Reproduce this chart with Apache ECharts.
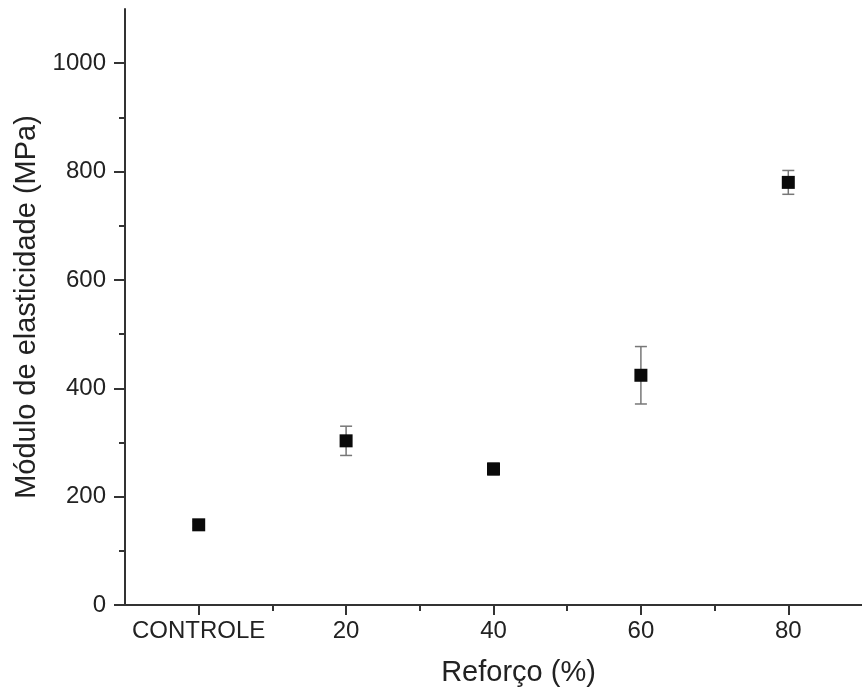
<!DOCTYPE html>
<html>
<head>
<meta charset="utf-8">
<title>Módulo de elasticidade</title>
<script src="https://cdn.jsdelivr.net/npm/echarts@6/dist/echarts.min.js"></script>
<style>
  html, body { margin: 0; padding: 0; background: #fff; }
  #chart { width: 862px; height: 700px; }
</style>
</head>
<body>
<div id="chart"></div>
<script>
// dados
var reforco = [0, 20, 40, 60, 80];            // posição no eixo x (0 = controle)
var reforcoLabels = ['CONTROLE', '20', '40', '60', '80'];
var modulo = [148, 303, 251, 424, 780];        // MPa
var desvio = [6, 27, 11, 53, 22];              // barra de erro (+/-)
var yMajor = [0, 200, 400, 600, 800, 1000];
var yMinor = [100, 300, 500, 700, 900];
var xMinor = [10, 30, 50, 70];

var fonte = "'Liberation Sans', Arial, sans-serif";
var corEixo = '#333';

var pontos = reforco.map(function (x, i) { return [x, modulo[i]]; });
var barras = reforco.map(function (x, i) { return [x, modulo[i] - desvio[i], modulo[i] + desvio[i]]; });

var myChart = echarts.init(document.getElementById('chart'));

var option = {
    backgroundColor: '#fff',
    animation: false,
    grid: { left: 125, right: -2, top: 9, bottom: 95 },
    xAxis: [
        {
            type: 'value',
            min: -10,
            max: 90,
            splitLine: { show: false },
            name: 'Reforço (%)',
            nameLocation: 'middle',
            nameGap: 53,
            nameTextStyle: { fontFamily: fonte, fontSize: 29, color: '#222', padding: [0, 0, 0, 50] },
            axisLine: { onZero: false, lineStyle: { color: corEixo, width: 2 } },
            axisTick: { customValues: reforco, length: 10, lineStyle: { color: corEixo, width: 2 } },
            axisLabel: {
                customValues: reforco,
                margin: 14,
                fontFamily: fonte,
                fontSize: 24,
                color: '#222',
                formatter: function (v) {
                    var i = reforco.indexOf(v);
                    return i >= 0 ? reforcoLabels[i] : '';
                }
            }
        },
        {
            // ticks menores
            type: 'value',
            position: 'bottom',
            min: -10,
            max: 90,
            splitLine: { show: false },
            axisLine: { show: false, onZero: false },
            axisTick: { customValues: xMinor, length: 6, lineStyle: { color: corEixo, width: 2 } },
            axisLabel: { show: false }
        }
    ],
    yAxis: [
        {
            type: 'value',
            min: 0,
            max: 1100,
            splitLine: { show: false },
            name: 'Módulo de elasticidade (MPa)',
            nameLocation: 'middle',
            nameGap: 77,
            nameTextStyle: { fontFamily: fonte, fontSize: 29, color: '#222' },
            axisLine: { onZero: false, lineStyle: { color: corEixo, width: 2 } },
            axisTick: { customValues: yMajor, length: 11, lineStyle: { color: corEixo, width: 2 } },
            axisLabel: {
                customValues: yMajor,
                margin: 19,
                fontFamily: fonte,
                fontSize: 24,
                color: '#222',
                formatter: function (v) { return String(v); }
            }
        },
        {
            type: 'value',
            position: 'left',
            min: 0,
            max: 1100,
            splitLine: { show: false },
            axisLine: { show: false, onZero: false },
            axisTick: { customValues: yMinor, length: 6, lineStyle: { color: corEixo, width: 2 } },
            axisLabel: { show: false }
        }
    ],
    series: [
        {
            type: 'custom',
            name: 'erro',
            data: barras,
            encode: { x: 0, y: [1, 2] },
            renderItem: function (params, api) {
                var x = api.value(0);
                var lo = api.coord([x, api.value(1)]);
                var hi = api.coord([x, api.value(2)]);
                var w = 6;
                var estilo = { stroke: '#777', lineWidth: 1.5 };
                return {
                    type: 'group',
                    children: [
                        { type: 'line', shape: { x1: hi[0], y1: hi[1], x2: lo[0], y2: lo[1] }, style: estilo },
                        { type: 'line', shape: { x1: hi[0] - w, y1: hi[1], x2: hi[0] + w, y2: hi[1] }, style: estilo },
                        { type: 'line', shape: { x1: lo[0] - w, y1: lo[1], x2: lo[0] + w, y2: lo[1] }, style: estilo }
                    ]
                };
            },
            z: 1
        },
        {
            type: 'scatter',
            name: 'módulo',
            data: pontos,
            symbol: 'rect',
            symbolSize: 13,
            itemStyle: { color: '#0a0a0a', opacity: 1 },
            z: 2
        }
    ]
};

myChart.setOption(option);
</script>
</body>
</html>
